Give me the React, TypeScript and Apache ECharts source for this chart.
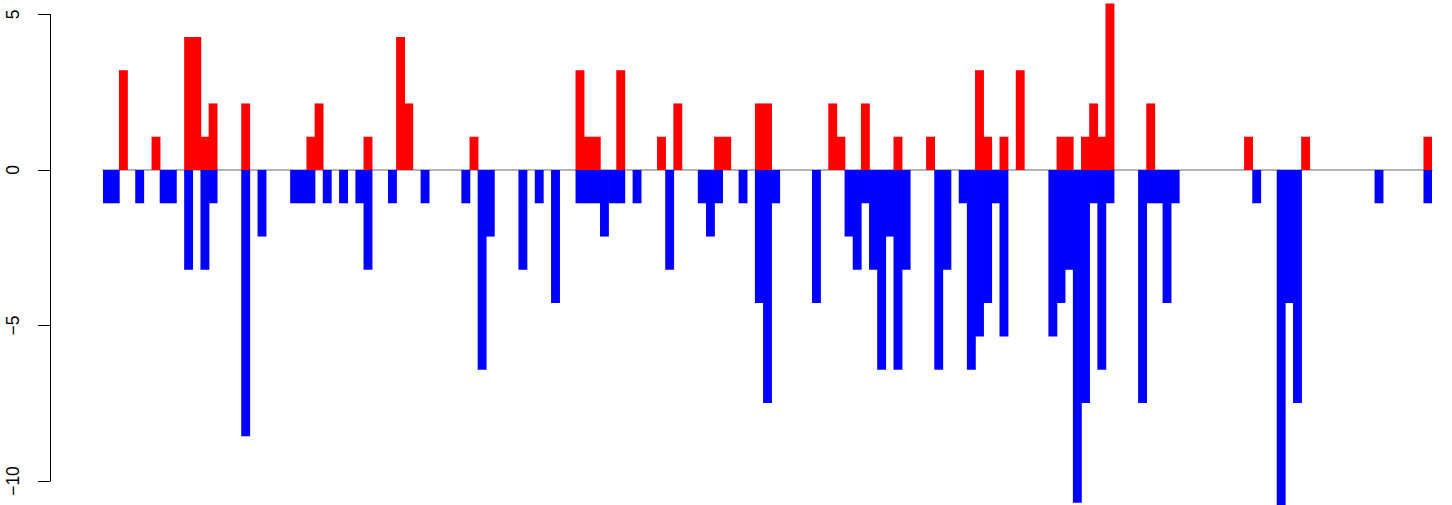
import React, { useEffect, useRef } from "react";
import * as echarts from "echarts";

// Positive (red) and negative (blue) values per position
const gains: number[] = [
  0, 0, 3.21, 0, 0, 0, 1.07, 0, 0, 0,
  4.28, 4.28, 1.07, 2.14, 0, 0, 0, 2.14, 0, 0,
  0, 0, 0, 0, 0, 1.07, 2.14, 0, 0, 0,
  0, 0, 1.07, 0, 0, 0, 4.28, 2.14, 0, 0,
  0, 0, 0, 0, 0, 1.07, 0, 0, 0, 0,
  0, 0, 0, 0, 0, 0, 0, 0, 3.21, 1.07,
  1.07, 0, 0, 3.21, 0, 0, 0, 0, 1.07, 0,
  2.14, 0, 0, 0, 0, 1.07, 1.07, 0, 0, 0,
  2.14, 2.14, 0, 0, 0, 0, 0, 0, 0, 2.14,
  1.07, 0, 0, 2.14, 0, 0, 0, 1.07, 0, 0,
  0, 1.07, 0, 0, 0, 0, 0, 3.21, 1.07, 0,
  1.07, 0, 3.21, 0, 0, 0, 0, 1.07, 1.07, 0,
  1.07, 2.14, 1.07, 5.35, 0, 0, 0, 0, 2.14, 0,
  0, 0, 0, 0, 0, 0, 0, 0, 0, 0,
  1.07, 0, 0, 0, 0, 0, 0, 1.07, 0, 0,
  0, 0, 0, 0, 0, 0, 0, 0, 0, 0,
  0, 0, 1.07,
];

const losses: number[] = [
  -1.07, -1.07, 0, 0, -1.07, 0, 0, -1.07, -1.07, 0,
  -3.21, 0, -3.21, -1.07, 0, 0, 0, -8.56, 0, -2.14,
  0, 0, 0, -1.07, -1.07, -1.07, 0, -1.07, 0, -1.07,
  0, -1.07, -3.21, 0, 0, -1.07, 0, 0, 0, -1.07,
  0, 0, 0, 0, -1.07, 0, -6.42, -2.14, 0, 0,
  0, -3.21, 0, -1.07, 0, -4.28, 0, 0, -1.07, -1.07,
  -1.07, -2.14, -1.07, -1.07, 0, -1.07, 0, 0, 0, -3.21,
  0, 0, 0, -1.07, -2.14, -1.07, 0, 0, -1.07, 0,
  -4.28, -7.49, -1.07, 0, 0, 0, 0, -4.28, 0, 0,
  0, -2.14, -3.21, -1.07, -3.21, -6.42, -2.14, -6.42, -3.21, 0,
  0, 0, -6.42, -3.21, 0, -1.07, -6.42, -5.35, -4.28, -1.07,
  -5.35, 0, 0, 0, 0, 0, -5.35, -4.28, -3.21, -10.7,
  -7.49, -1.07, -6.42, -1.07, 0, 0, 0, -7.49, -1.07, -1.07,
  -4.28, -1.07, 0, 0, 0, 0, 0, 0, 0, 0,
  0, -1.07, 0, 0, -11.77, -4.28, -7.49, 0, 0, 0,
  0, 0, 0, 0, 0, 0, -1.07, 0, 0, 0,
  0, 0, -1.07,
];

const categories: string[] = gains.map((_, i) => String(i + 1));

const yTicks = { min: -10, max: 5, interval: 5 };

// zero-height positions are drawn as empty (no bar)
const asBars = (arr: number[]) => arr.map((v) => (v === 0 ? null : v));

export default function App() {
  const ref = useRef<HTMLDivElement>(null);

  useEffect(() => {
    if (!ref.current) return;
    const chart = echarts.init(ref.current, null, { renderer: "svg" });
    const pxPerUnit = 31.1;
    const zeroY = 170;
    const H = 505;
    const font = "'Liberation Sans', Arial, Helvetica, sans-serif";
    // slightly wider than the 8.15px band so adjacent bars overlap (no seams)
    const barPx = 8.9;

    chart.setOption({
      animation: false,
      backgroundColor: "#ffffff",
      grid: [
        // axis-only grid (ticks -10..5)
        { left: 50, width: 1, top: zeroY - yTicks.max * pxPerUnit, bottom: H - (zeroY - yTicks.min * pxPerUnit) },
        // bar grid
        { left: 103, right: 20, top: 0, bottom: 0 },
      ],
      xAxis: [
        { gridIndex: 0, type: "value", show: false },
        {
          gridIndex: 1,
          type: "category",
          data: categories,
          boundaryGap: true,
          axisLine: { show: true, onZero: true, lineStyle: { color: "#9a9a9a", width: 1.6 } },
          axisTick: { show: false },
          axisLabel: { show: false },
          splitLine: { show: false },
        },
      ],
      yAxis: [
        {
          gridIndex: 0,
          type: "value",
          min: yTicks.min,
          max: yTicks.max,
          interval: yTicks.interval,
          axisLine: { show: true, lineStyle: { color: "#000", width: 1 } },
          axisTick: { show: true, length: 12, lineStyle: { color: "#000", width: 1 } },
          axisLabel: {
            show: true,
            rotate: 90,
            margin: 28,
            fontSize: 17.5,
            fontFamily: font,
            color: "#000",
            formatter: (v: number) => (v < 0 ? "\u2212" + Math.abs(v) : String(v)),
          },
          splitLine: { show: false },
        },
        {
          gridIndex: 1,
          type: "value",
          min: -(H - zeroY) / pxPerUnit,
          max: zeroY / pxPerUnit,
          show: false,
          splitLine: { show: false },
        },
      ],
      series: [
        {
          type: "bar",
          xAxisIndex: 1,
          yAxisIndex: 1,
          data: asBars(gains),
          barWidth: barPx,
          barGap: "-100%",
          itemStyle: { color: "#ff0000" },
          clip: true,
        },
        {
          type: "bar",
          xAxisIndex: 1,
          yAxisIndex: 1,
          data: asBars(losses),
          barWidth: barPx,
          barGap: "-100%",
          itemStyle: { color: "#0000ff" },
          clip: true,
        },
      ],
    });

    return () => chart.dispose();
  }, []);

  return (
    <div
      ref={ref}
      style={{ position: "fixed", left: 0, top: 0, width: 1452, height: 505, background: "#fff" }}
    />
  );
}
